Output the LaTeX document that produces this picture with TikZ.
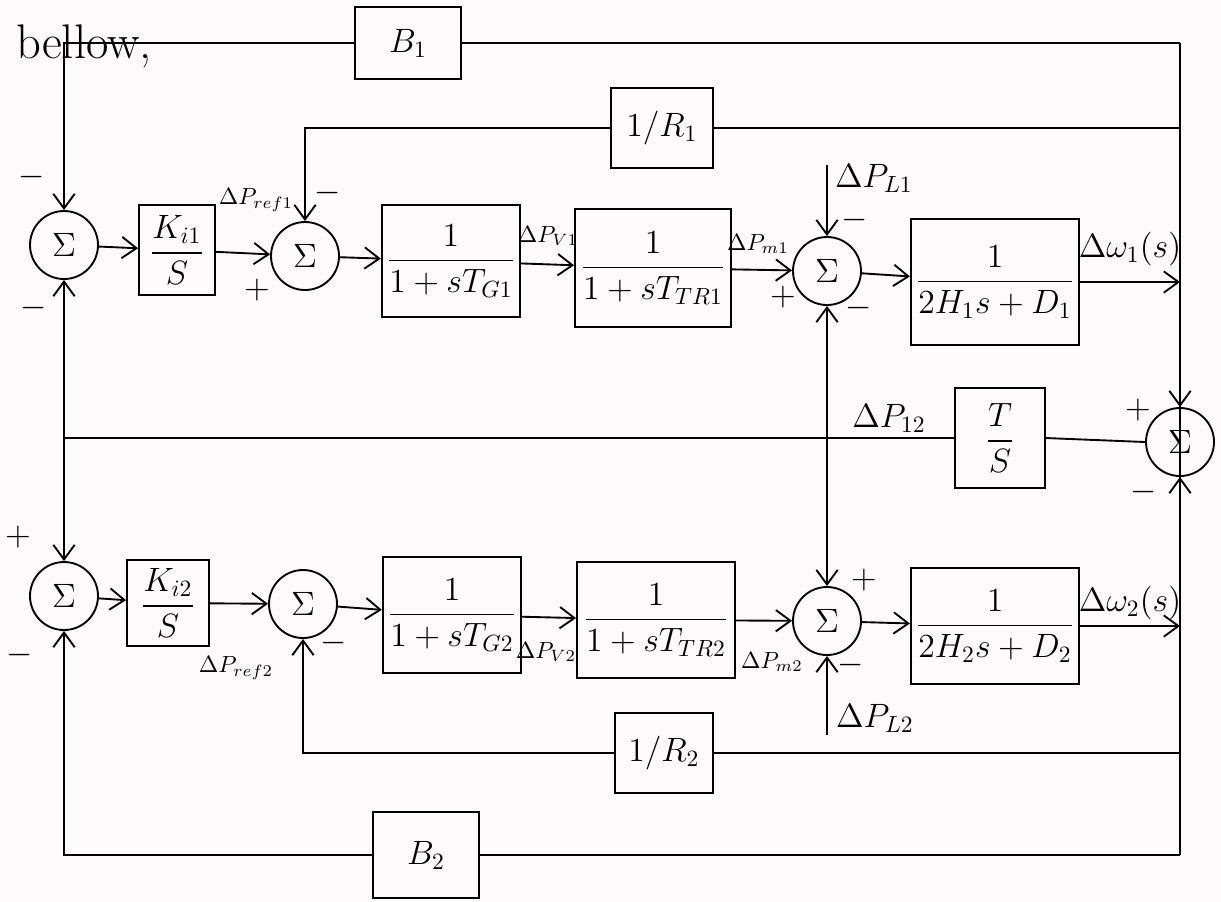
\documentclass[tikz,border=0pt]{standalone}
\usepackage{amsmath}
\usepackage{amssymb}
\usepackage{xcolor}
\usetikzlibrary{arrows.meta}
\definecolor{paper}{RGB}{253,250,252}

\begin{document}
\begin{tikzpicture}[x=0.015cm, y=-0.015cm, thick,
    blk/.style={draw, inner sep=2pt, font=\Large},
    sumj/.style={draw, circle, minimum size=1.02cm, inner sep=0pt, font=\Large},
    sig/.style={-{Straight Barb[length=2.2mm, width=3.2mm]}},
    lbl/.style={font=\Large},
    sml/.style={font=\normalsize, inner sep=1pt},
    sgn/.style={font=\Large}]

    \fill[paper] (0,0) rectangle (1221,901);
    \useasboundingbox (0,0) rectangle (1221,901);

    \node[font=\huge] (txt) at (84,46) {bellow,};

    % area 1
    \node[sumj] (s11) at (64,245) {$\Sigma$};
    \node[blk, minimum width=1.14cm, minimum height=1.34cm] (ki1) at (177,250) {$\dfrac{K_{i1}}{S}$};
    \node[sumj] (s12) at (305,256) {$\Sigma$};
    \node[blk, minimum width=2.04cm, minimum height=1.68cm] (g1) at (451,261) {$\dfrac{1}{1+sT_{G1}}$};
    \node[blk, minimum width=2.34cm, minimum height=1.77cm] (t1) at (653,268) {$\dfrac{1}{1+sT_{TR1}}$};
    \node[sumj] (s13) at (827,271) {$\Sigma$};
    \node[blk, minimum width=2.37cm, minimum height=1.9cm] (p1) at (995,282) {$\dfrac{1}{2H_1s+D_1}$};

    \node[blk, minimum width=1.58cm, minimum height=1.08cm] (b1) at (408,43) {$B_1$};
    \node[blk, minimum width=1.52cm, minimum height=1.2cm] (r1) at (662,128) {$1/R_1$};
    \node[blk, minimum width=1.34cm, minimum height=1.5cm] (ts) at (1000,438) {$\dfrac{T}{S}$};
    \node[sumj] (s3) at (1180,442) {$\Sigma$};

    % area 2
    \node[sumj] (s21) at (64,596) {$\Sigma$};
    \node[blk, minimum width=1.23cm, minimum height=1.3cm] (ki2) at (168,603) {$\dfrac{K_{i2}}{S}$};
    \node[sumj] (s22) at (303,604) {$\Sigma$};
    \node[blk, minimum width=1.85cm, minimum height=1.73cm] (g2) at (452,615) {$\dfrac{1}{1+sT_{G2}}$};
    \node[blk, minimum width=2.37cm, minimum height=1.73cm] (t2) at (656,620) {$\dfrac{1}{1+sT_{TR2}}$};
    \node[sumj] (s23) at (827,621) {$\Sigma$};
    \node[blk, minimum width=2.4cm, minimum height=1.73cm] (p2) at (995,626) {$\dfrac{1}{2H_2s+D_2}$};

    \node[blk, minimum width=1.47cm, minimum height=1.2cm] (r2) at (664,753) {$1/R_2$};
    \node[blk, minimum width=1.6cm, minimum height=1.29cm] (b2) at (426,855) {$B_2$};

    \coordinate (w1) at (1180,282);
    \coordinate (w2) at (1180,626);
    \coordinate (pl1) at (827,165);
    \coordinate (pl2) at (827,735);
    \coordinate (tl) at (ts -| s11);
    \coordinate (tm) at (ts -| s13);

    % forward paths
    \draw[sig] (s11) -- (ki1);
    \draw[sig] (ki1) -- (s12);
    \draw[sig] (s12) -- (g1);
    \draw[sig] (g1) -- (t1);
    \draw[sig] (t1) -- (s13);
    \draw[sig] (s13) -- (p1);
    \draw[sig] (p1) -- (w1);
    \draw[sig] (s21) -- (ki2);
    \draw[sig] (ki2) -- (s22);
    \draw[sig] (s22) -- (g2);
    \draw[sig] (g2) -- (t2);
    \draw[sig] (t2) -- (s23);
    \draw[sig] (s23) -- (p2);
    \draw[sig] (p2) -- (w2);

    % feedback and tie line
    \draw (b1 -| w1) -- (b2 -| w1);
    \draw (b1 -| w1) -- (b1.east);
    \draw[sig] (b1.west) -- (b1 -| s11) -- (s11.north);
    \draw (r1 -| w1) -- (r1.east);
    \draw[sig] (r1.west) -- (r1 -| s12) -- (s12.north);
    \draw[sig] (w1) -- (s3.north);
    \draw[sig] (w2) -- (s3.south);
    \draw (s3.west) -- (ts.east);
    \draw (ts.west) -- (tl);
    \draw[sig] (tl) -- (s11.south);
    \draw[sig] (tl) -- (s21.north);
    \draw[sig] (tm) -- (s13.south);
    \draw[sig] (tm) -- (s23.north);
    \draw[sig] (pl1) -- (s13.north);
    \draw[sig] (pl2) -- (s23.south);
    \draw (r2 -| w2) -- (r2.east);
    \draw[sig] (r2.west) -- (r2 -| s22) -- (s22.south);
    \draw (b2 -| w2) -- (b2.east);
    \draw[sig] (b2.west) -- (b2 -| s21) -- (s21.south);

    % signal labels
    \node[sml] (lref1) at (256,200) {$\Delta P_{ref1}$};
    \node[sml] (lv1) at (548,236) {$\Delta P_{V1}$};
    \node[sml] (lm1) at (758,244) {$\Delta P_{m1}$};
    \node[lbl] (ll1) at (874,178) {$\Delta P_{L1}$};
    \node[lbl] (lw1) at (1130,249) {$\Delta\omega_1(s)$};
    \node[lbl] (l12) at (889,418) {$\Delta P_{12}$};
    \node[sml] (lref2) at (236,668) {$\Delta P_{ref2}$};
    \node[sml] (lv2) at (546,652) {$\Delta P_{V2}$};
    \node[sml] (lm2) at (772,662) {$\Delta P_{m2}$};
    \node[lbl] (ll2) at (875,718) {$\Delta P_{L2}$};
    \node[lbl] (lw2) at (1130,603) {$\Delta\omega_2(s)$};

    % signs
    \node[sgn] (g11a) at (32,177) {$-$};
    \node[sgn] (g11b) at (34,308) {$-$};
    \node[sgn] (g12a) at (328,193) {$-$};
    \node[sgn] (g12b) at (257,290) {$+$};
    \node[sgn] (g13a) at (855,220) {$-$};
    \node[sgn] (g13b) at (783,297) {$+$};
    \node[sgn] (g13c) at (859,308) {$-$};
    \node[sgn] (g3a) at (1138,410) {$+$};
    \node[sgn] (g3b) at (1144,492) {$-$};
    \node[sgn] (g21a) at (18,537) {$+$};
    \node[sgn] (g21b) at (20,655) {$-$};
    \node[sgn] (g22a) at (334,643) {$-$};
    \node[sgn] (g23a) at (864,580) {$+$};
    \node[sgn] (g23b) at (851,665) {$-$};
\end{tikzpicture}
\end{document}
